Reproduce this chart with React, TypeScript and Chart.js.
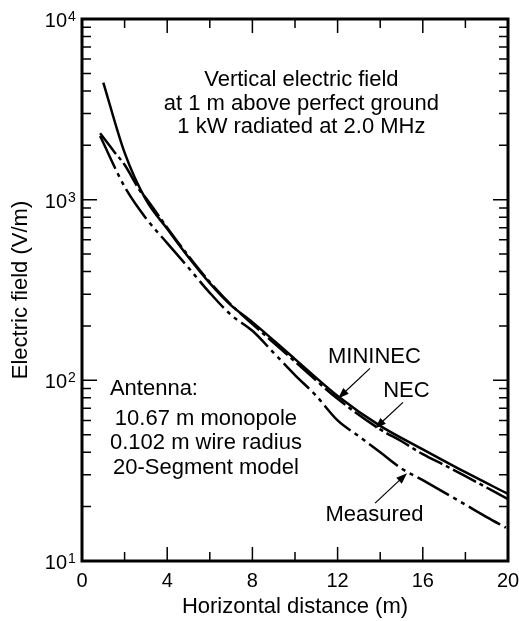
import React, { useEffect, useRef } from "react";
import { Chart, registerables } from "chart.js";

Chart.register(...registerables);

const FONT = '"Liberation Sans", Arial, Helvetica, sans-serif';

// ---- data ----
const mininecX = [1, 2, 3, 4, 5, 6, 7, 8, 10, 12, 14, 16, 18, 20];
const mininecY = [4450, 1820, 1000, 690, 480, 345, 260, 210, 131, 82, 56, 41.5, 31, 23.5];

const necX = [0.85, 1.5, 2, 2.7, 3, 4, 5, 6, 7, 8, 10, 12, 14, 15, 16, 17, 18, 20];
const necY = [2330, 1850, 1560, 1130, 1020, 700, 488, 350, 262, 205, 127, 79, 53.5, 46, 39, 34, 29.5, 22];

const measuredX = [0.85, 2, 3, 4, 5, 6, 7, 8, 9, 10, 11, 12, 13, 14, 15, 16, 17, 18, 19, 19.9];
const measuredY = [2250, 1180, 790, 575, 420, 305, 230, 188, 142, 107, 82, 60, 49, 40, 32.5, 28, 24, 20.5, 17.5, 15.3];

// ---- axes ----
const xMin = 0;
const xMax = 20;
const yMin = 10;
const yMax = 10000;
const xTickValues = [2, 4, 6, 8, 10, 12, 14, 16, 18];
const xMajorStep = 4;
const xLabelValues = [0, 4, 8, 12, 16, 20];
const yDecades = [10, 100, 1000, 10000];
const yExponents = ["1", "2", "3", "4"];
const xTitle = "Horizontal distance (m)";
const yTitle = "Electric field (V/m)";

// ---- annotations ----
const titleLines = ["Vertical electric field", "at 1 m above perfect ground", "1 kW radiated at 2.0 MHz"];
const titleX = 10.3;
const titleY = [4256, 3152, 2333];
const antennaHeading = "Antenna:";
const antennaHeadingPos = [1.31, 82.6];
const antennaLines = ["10.67 m monopole", "0.102 m wire radius", "20-Segment model"];
const antennaX = 5.82;
const antennaY = [56.4, 41.5, 30.5];
const calloutLabels = ["MININEC", "NEC", "Measured"];
const calloutLabelPos = [[13.73, 124], [15.23, 80.5], [13.73, 16.7]];
const calloutFrom = [[13.52, 116.4], [15.07, 75.5], [13.76, 20.9]];
const calloutTo = [[12.02, 79.4], [13.76, 54.2], [15.26, 30.6]];

const pts = (xs: number[], ys: number[]) => xs.map((x, i) => ({ x, y: ys[i] }));

function drawArrow(ctx: CanvasRenderingContext2D, x1: number, y1: number, x2: number, y2: number) {
  const ang = Math.atan2(y2 - y1, x2 - x1);
  const L = 11;
  const W = 4;
  ctx.beginPath();
  ctx.moveTo(x1, y1);
  ctx.lineTo(x2 - (L - 2) * Math.cos(ang), y2 - (L - 2) * Math.sin(ang));
  ctx.stroke();
  ctx.beginPath();
  ctx.moveTo(x2, y2);
  ctx.lineTo(x2 - L * Math.cos(ang) + W * Math.sin(ang), y2 - L * Math.sin(ang) - W * Math.cos(ang));
  ctx.lineTo(x2 - L * Math.cos(ang) - W * Math.sin(ang), y2 - L * Math.sin(ang) + W * Math.cos(ang));
  ctx.closePath();
  ctx.fill();
}

const decorPlugin = {
  id: "decor",
  afterDatasetsDraw(chart: any) {
    const { ctx, chartArea: a, scales } = chart;
    const xs = scales.x;
    const ys = scales.y;
    ctx.save();
    ctx.strokeStyle = "#000";
    ctx.fillStyle = "#000";
    ctx.lineCap = "butt";

    // tick marks (inward) on all four sides
    ctx.lineWidth = 1.5;
    ctx.beginPath();
    for (const v of xTickValues) {
      const px = xs.getPixelForValue(v);
      const len = v % xMajorStep === 0 ? 14 : 9;
      ctx.moveTo(px, a.bottom);
      ctx.lineTo(px, a.bottom - len);
      ctx.moveTo(px, a.top);
      ctx.lineTo(px, a.top + len);
    }
    for (let d = 0; d < yDecades.length - 1; d++) {
      for (let k = 1; k <= 9; k++) {
        const v = yDecades[d] * k;
        if (v <= yMin) continue;
        const py = ys.getPixelForValue(v);
        const len = k === 1 ? 15 : 9;
        ctx.moveTo(a.left, py);
        ctx.lineTo(a.left + len, py);
        ctx.moveTo(a.right, py);
        ctx.lineTo(a.right - len, py);
      }
    }
    ctx.stroke();

    // frame
    ctx.lineWidth = 3;
    ctx.strokeRect(a.left, a.top, a.right - a.left, a.bottom - a.top);

    // x tick labels
    ctx.font = `20px ${FONT}`;
    ctx.textAlign = "center";
    ctx.textBaseline = "alphabetic";
    for (const v of xLabelValues) {
      ctx.fillText(String(v), xs.getPixelForValue(v), a.bottom + 26);
    }

    // y tick labels 10^n
    yDecades.forEach((v, i) => {
      const py = ys.getPixelForValue(v);
      ctx.font = `20px ${FONT}`;
      ctx.textAlign = "right";
      ctx.fillText("10", a.left - 15, py + 8);
      ctx.font = `14px ${FONT}`;
      ctx.textAlign = "left";
      ctx.fillText(yExponents[i], a.left - 14, py + 2);
    });

    // axis titles
    ctx.font = `22px ${FONT}`;
    ctx.textAlign = "center";
    ctx.fillText(xTitle, (a.left + a.right) / 2, a.bottom + 52);
    ctx.save();
    ctx.translate(a.left - 55, (a.top + a.bottom) / 2);
    ctx.rotate(-Math.PI / 2);
    ctx.fillText(yTitle, 0, 0);
    ctx.restore();

    // in-plot text
    ctx.font = `22px ${FONT}`;
    ctx.textAlign = "center";
    titleLines.forEach((t, i) => {
      ctx.fillText(t, xs.getPixelForValue(titleX), ys.getPixelForValue(titleY[i]));
    });
    ctx.textAlign = "left";
    ctx.fillText(antennaHeading, xs.getPixelForValue(antennaHeadingPos[0]), ys.getPixelForValue(antennaHeadingPos[1]));
    ctx.textAlign = "center";
    antennaLines.forEach((t, i) => {
      ctx.fillText(t, xs.getPixelForValue(antennaX), ys.getPixelForValue(antennaY[i]));
    });
    calloutLabels.forEach((t, i) => {
      ctx.fillText(t, xs.getPixelForValue(calloutLabelPos[i][0]), ys.getPixelForValue(calloutLabelPos[i][1]));
    });

    // arrows
    ctx.lineWidth = 1.2;
    calloutLabels.forEach((_, i) => {
      drawArrow(
        ctx,
        xs.getPixelForValue(calloutFrom[i][0]),
        ys.getPixelForValue(calloutFrom[i][1]),
        xs.getPixelForValue(calloutTo[i][0]),
        ys.getPixelForValue(calloutTo[i][1])
      );
    });
    ctx.restore();
  },
};

export default function App() {
  const ref = useRef<HTMLCanvasElement | null>(null);
  useEffect(() => {
    if (!ref.current) return;
    const common = {
      borderColor: "#000",
      borderWidth: 2.5,
      pointRadius: 0,
      fill: false,
      cubicInterpolationMode: "monotone" as const,
      borderCapStyle: "butt" as const,
    };
    const chart = new Chart(ref.current, {
      type: "line",
      data: {
        datasets: [
          { ...common, label: "MININEC", data: pts(mininecX, mininecY) },
          { ...common, label: "NEC", data: pts(necX, necY), borderDash: [26, 4, 4, 4] },
          { ...common, label: "Measured", data: pts(measuredX, measuredY), borderDash: [36, 5, 4, 5, 4, 5] },
        ],
      },
      options: {
        animation: false,
        responsive: false,
        devicePixelRatio: 1,
        layout: { padding: { left: 82, right: 11, top: 19, bottom: 60 } },
        plugins: { legend: { display: false }, tooltip: { enabled: false } },
        events: [],
        scales: {
          x: { type: "linear", min: xMin, max: xMax, display: false },
          y: { type: "logarithmic", min: yMin, max: yMax, display: false },
        },
      },
      plugins: [decorPlugin],
    });
    return () => chart.destroy();
  }, []);
  return (
    <div style={{ position: "fixed", left: 0, top: 0, width: 519, height: 621, background: "#fff" }}>
      <canvas ref={ref} width={519} height={621} style={{ display: "block" }} />
    </div>
  );
}
